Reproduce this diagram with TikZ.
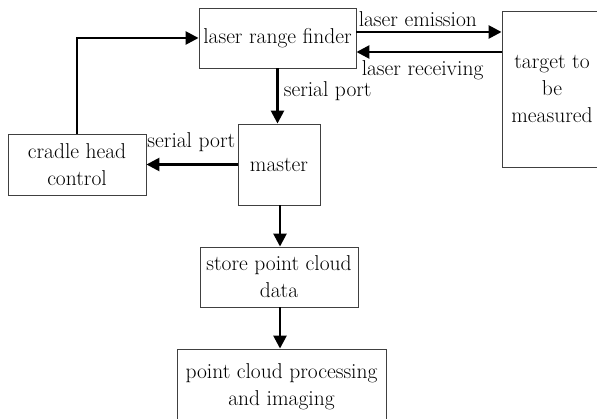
\documentclass[tikz,border=0pt]{standalone}
\usetikzlibrary{arrows.meta}
\begin{document}
\begin{tikzpicture}[x=1pt,y=-1pt,
  box/.style={draw=black!75,line width=0.9pt,rectangle,inner sep=0pt,align=center,font=\fontsize{21.5}{27}\selectfont},
  arr/.style={line width=2.6pt,-{Triangle[length=13pt,width=13pt]}},
  lbl/.style={inner sep=0pt,font=\fontsize{21.5}{24}\selectfont}]
\clip (0,0) rectangle (597,419);
\node[box,minimum width=157pt,minimum height=60pt] (finder) at (277.5,38) {laser range finder};
\node[box,minimum width=100pt,minimum height=156pt] (target) at (552,89) {target to\\be\\measured};
\node[box,minimum width=138pt,minimum height=61pt] (cradle) at (77,164.5) {cradle head\\control};
\node[box,minimum width=82pt,minimum height=81pt] (master) at (279,164.5) {master};
\node[box,minimum width=158pt,minimum height=60pt] (store) at (279,277) {store point cloud\\data};
\node[box,minimum width=209pt,minimum height=90pt] (proc) at (281.5,394) {};
\node[inner sep=0pt,align=center,font=\fontsize{21.5}{27}\selectfont] (proctext) at (281.5,387) {point cloud processing\\and imaging};
\draw[arr] (finder.east |- 0,32) -- (target.west |- 0,32)
  node[lbl,pos=0,anchor=south west,xshift=1pt,yshift=4pt] (lem) {laser emission};
\draw[arr] (target.west |- 0,52) -- (finder.east |- 0,52)
  node[lbl,pos=1,anchor=north west,xshift=4pt,yshift=-7pt] (lrc) {laser receiving};
\draw[arr] (finder.south) -- (finder.south |- master.north)
  node[lbl,pos=0.42,anchor=west,xshift=5pt] (sp1) {serial port};
\draw[arr] (master.west) -- (master.west -| cradle.east)
  node[lbl,pos=0,anchor=south east,yshift=12pt,xshift=-1pt] (sp2) {serial port};
\draw[arr] (cradle.north) |- (finder.west);
\draw[arr] (master.south -| 280,0) -- (store.north -| 280,0);
\draw[arr] (store.south -| 280,0) -- (proc.north -| 280,0);
\end{tikzpicture}
\end{document}
